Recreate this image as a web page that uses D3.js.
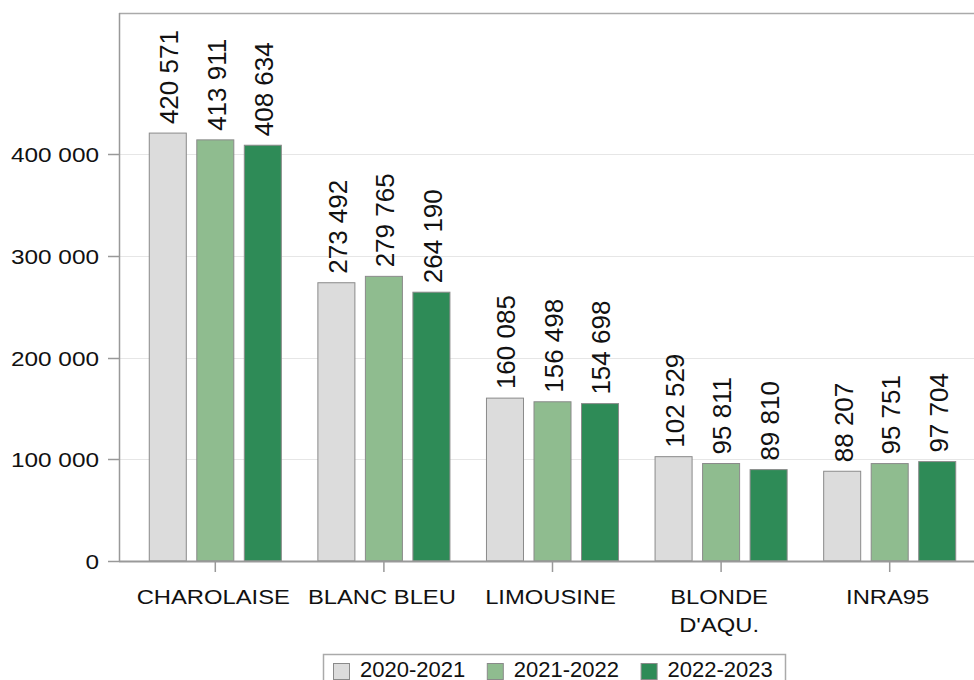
<!DOCTYPE html>
<html>
<head>
<meta charset="utf-8">
<script src="https://cdn.jsdelivr.net/npm/d3@7/dist/d3.min.js"></script>
<style>
  html, body { margin: 0; padding: 0; background: #fff; }
  svg { display: block; font-family: "Liberation Sans", Arial, Helvetica, sans-serif; }
</style>
</head>
<body>
<svg id="chart" width="974" height="680"></svg>
<script>
const categories = ["CHAROLAISE", "BLANC BLEU", "LIMOUSINE", "BLONDE\nD'AQU.", "INRA95"];
const seriesNames = ["2020-2021", "2021-2022", "2022-2023"];
const values2020 = [420571, 273492, 160085, 102529, 88207];
const values2021 = [413911, 279765, 156498, 95811, 95751];
const values2022 = [408634, 264190, 154698, 89810, 97704];
const yTicks = [0, 100000, 200000, 300000, 400000];
const colors = ["#dcdcdc", "#8fbc8f", "#2e8b57"];

(function () {
const seriesValues = [values2020, values2021, values2022];
const fmt = v => d3.format(",")(v).replace(/,/g, " ");

const svg = d3.select("#chart");
const pLeft = 119, pRight = 974, pTop = 13, pBottom = 561;

const y = d3.scaleLinear().domain([0, 538600]).range([pBottom, pTop]);
const x0 = d3.scaleBand().domain(categories).range([131, 974]).padding(0);
const x1 = d3.scaleBand().domain(seriesNames).range([0, x0.bandwidth()])
  .paddingInner(0.2).paddingOuter(0.374);

const HS = 1.16; // horizontal stretch for axis text

// gridlines
svg.append("g").selectAll("line").data(yTicks.filter(d => d > 0)).join("line")
  .attr("x1", pLeft).attr("x2", pRight)
  .attr("y1", d => Math.round(y(d)) + 0.5).attr("y2", d => Math.round(y(d)) + 0.5)
  .attr("stroke", "#e6e6e6").attr("stroke-width", 1);

// top border
svg.append("line").attr("x1", pLeft).attr("x2", pRight).attr("y1", pTop + 0.5).attr("y2", pTop + 0.5)
  .attr("stroke", "#aaaaaa").attr("stroke-width", 1.5);

// bars
const groups = svg.append("g").selectAll("g").data(categories).join("g")
  .attr("transform", d => `translate(${x0(d)},0)`);

groups.each(function(cat, ci) {
  const g = d3.select(this);
  const rows = seriesNames.map((s, si) => ({ s, si, v: seriesValues[si][ci] }));
  g.selectAll("rect").data(rows).join("rect")
    .attr("x", d => x1(d.s) + 0.5)
    .attr("y", d => y(d.v))
    .attr("width", x1.bandwidth() - 1)
    .attr("height", d => pBottom - y(d.v))
    .attr("fill", d => colors[d.si])
    .attr("stroke", "#8a8a8a").attr("stroke-width", 1);
  g.selectAll("text").data(rows).join("text")
    .attr("transform", d => `translate(${x1(d.s) + x1.bandwidth() / 2 + 1},${y(d.v) - 9}) rotate(-90)`)
    .attr("dy", "0.36em")
    .attr("text-anchor", "start")
    .attr("font-size", 26)
    .attr("fill", "#111")
    .text(d => fmt(d.v));
});

// y axis
svg.append("line").attr("x1", pLeft + 0.5).attr("x2", pLeft + 0.5).attr("y1", pTop).attr("y2", pBottom)
  .attr("stroke", "#999").attr("stroke-width", 1.5);
const yt = svg.append("g").selectAll("g").data(yTicks).join("g")
  .attr("transform", d => `translate(0,${Math.round(y(d)) + 0.5})`);
yt.append("line").attr("x1", 108).attr("x2", pLeft).attr("stroke", "#999").attr("stroke-width", 1.5);
yt.append("text")
  .attr("transform", `translate(99,0) scale(${HS},1)`)
  .attr("dy", "0.35em").attr("text-anchor", "end")
  .attr("font-size", 21).attr("fill", "#111")
  .text(d => fmt(d));

// x axis
svg.append("line").attr("x1", pLeft).attr("x2", pRight).attr("y1", pBottom + 0.5).attr("y2", pBottom + 0.5)
  .attr("stroke", "#999").attr("stroke-width", 2);
const xt = svg.append("g").selectAll("g").data(categories).join("g")
  .attr("transform", d => `translate(${x0(d) + x0.bandwidth() / 2},0)`);
xt.append("line").attr("y1", pBottom).attr("y2", 572).attr("stroke", "#999").attr("stroke-width", 1.5);
xt.each(function(d) {
  const lines = d.split("\n");
  const t = d3.select(this).append("text")
    .attr("transform", `translate(-2,604) scale(${HS},1)`)
    .attr("text-anchor", "middle").attr("font-size", 20.5).attr("fill", "#111");
  lines.forEach((ln, i) => t.append("tspan").attr("x", 0).attr("y", i * 28.5).text(ln));
});

// legend
const lg = svg.append("g");
lg.append("rect").attr("x", 323.5).attr("y", 654.5).attr("width", 462).attr("height", 40)
  .attr("fill", "#fff").attr("stroke", "#aaa").attr("stroke-width", 1.5);
const items = lg.selectAll("g.item").data(seriesNames).join("g").attr("class", "item")
  .attr("transform", (d, i) => `translate(${333 + i * 153.8},0)`);
items.append("rect").attr("x", 0.5).attr("y", 663.5).attr("width", 16).attr("height", 16)
  .attr("fill", (d, i) => colors[i]).attr("stroke", "#8a8a8a");
items.append("text").attr("x", 27).attr("y", 677).attr("font-size", 22).attr("fill", "#111")
  .text(d => d);
})();
</script>
</body>
</html>
